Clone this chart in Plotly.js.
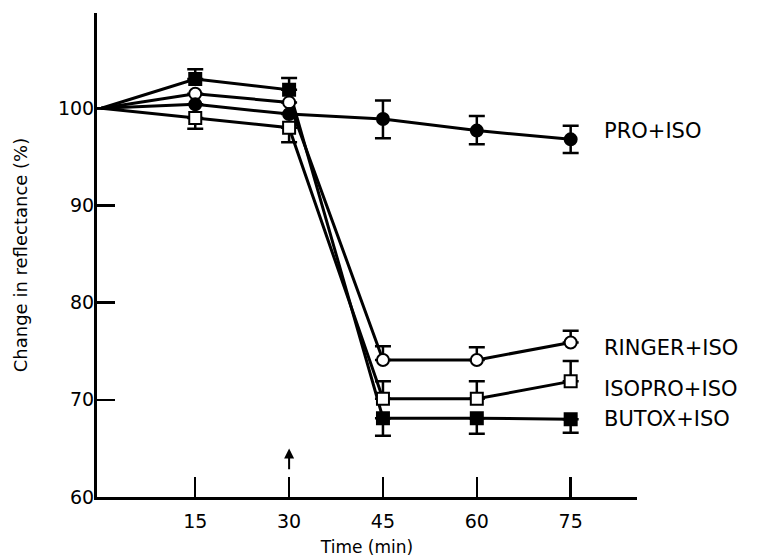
<!DOCTYPE html>
<html>
<head>
<meta charset="utf-8">
<script src="https://cdn.plot.ly/plotly-3.0.1.min.js"></script>
<style>html,body{margin:0;padding:0;background:#fff;}#chart{width:768px;height:559px;}</style>
</head>
<body>
<div id="chart"></div>
<script>
const times = [0, 15, 30, 45, 60, 75];
const seriesNames = ["PRO+ISO", "RINGER+ISO", "ISOPRO+ISO", "BUTOX+ISO"];
const proIso = [100, 100.4, 99.4, 98.9, 97.7, 96.8];
const proErrPlus = [0, 0, 0, 1.9, 1.5, 1.4];
const proErrMinus = [0, 0, 0, 2.0, 1.4, 1.4];
const ringerIso = [100, 101.5, 100.6, 74.1, 74.1, 75.9];
const ringerErrPlus = [0, 0, 0, 1.4, 1.3, 1.2];
const isoproIso = [100, 99.0, 98.0, 70.1, 70.1, 71.9];
const isoproErrMinus = [0, 1.1, 1.5, 0, 0, 0];
const isoproErrPlus = [0, 0, 0, 1.8, 1.8, 2.1];
const butoxIso = [100, 103.0, 101.9, 68.1, 68.1, 68.0];
const butoxErrPlus = [0, 1.0, 1.2, 0, 0, 0];
const butoxErrMinus = [0, 0, 0, 1.8, 1.6, 1.4];
const xTicks = [15, 30, 45, 60, 75];
const yTicks = [60, 70, 80, 90, 100];

const sizes = [0, 12, 12, 12, 12, 12];
function tr(y, sym, fill, plus, minus, name) {
  return {
    x: times, y: y, name: name, type: 'scatter', mode: 'lines+markers',
    line: {color: '#000', width: 3},
    marker: {symbol: sym, size: sizes, opacity: 1, color: fill, line: {color: '#000', width: 2}},
    error_y: {type: 'data', symmetric: false, array: plus, arrayminus: minus,
              color: '#000', thickness: 2.5, width: 8},
    hoverinfo: 'skip', cliponaxis: false
  };
}
const zeros = [0,0,0,0,0,0];
const data = [
  tr(butoxIso, 'square', '#000', butoxErrPlus, butoxErrMinus, seriesNames[3]),
  tr(isoproIso, 'square', '#fff', isoproErrPlus, isoproErrMinus, seriesNames[2]),
  tr(ringerIso, 'circle', '#fff', ringerErrPlus, zeros, seriesNames[1]),
  tr(proIso, 'circle', '#000', proErrPlus, proErrMinus, seriesNames[0])
];

const lastIdx = times.length - 1;
const labelFont = {family: 'DejaVu Sans, sans-serif', size: 21, color: '#000'};
const annotations = [
  {x: 80, y: proIso[lastIdx] + 0.9, text: seriesNames[0]},
  {x: 80, y: ringerIso[lastIdx] - 0.6, text: seriesNames[1]},
  {x: 80, y: isoproIso[lastIdx] - 0.8, text: seriesNames[2]},
  {x: 80, y: butoxIso[lastIdx], text: seriesNames[3]}
].map(a => Object.assign(a, {xref: 'x', yref: 'y', xanchor: 'left', yanchor: 'middle',
  showarrow: false, font: labelFont}));
annotations.push({x: 30, y: 65.0, xref: 'x', yref: 'y', ax: 30, ay: 62.7, axref: 'x', ayref: 'y',
  showarrow: true, arrowhead: 2, arrowsize: 1, arrowwidth: 2, arrowcolor: '#000', text: ''});

const layout = {
  width: 768, height: 559,
  margin: {l: 97, r: 131, t: 13, b: 62},
  paper_bgcolor: '#fff', plot_bgcolor: '#fff',
  showlegend: false,
  font: {family: 'DejaVu Sans, sans-serif', color: '#000'},
  xaxis: {
    range: [-0.7, 85.6], tickvals: xTicks, ticktext: xTicks.map(String),
    ticks: 'inside', ticklen: 20, tickwidth: 2.5, tickcolor: '#000', ticklabelstandoff: 5,
    showline: true, linewidth: 3, linecolor: '#000', showgrid: false, zeroline: false,
    tickfont: {size: 19}, title: {text: 'Time (min)', font: {size: 17}, standoff: 11}
  },
  yaxis: {
    range: [60, 109.8], tickvals: yTicks, ticktext: yTicks.map(String),
    ticks: 'inside', ticklen: 18, tickwidth: 2.5, tickcolor: '#000', ticklabelstandoff: -4,
    showline: true, linewidth: 3, linecolor: '#000', showgrid: false, zeroline: false,
    tickfont: {size: 19}, title: {text: 'Change in reflectance (%)', font: {size: 18}, standoff: 26}
  },
  annotations: annotations
};
Plotly.newPlot('chart', data, layout, {staticPlot: true, displayModeBar: false});
</script>
</body>
</html>
